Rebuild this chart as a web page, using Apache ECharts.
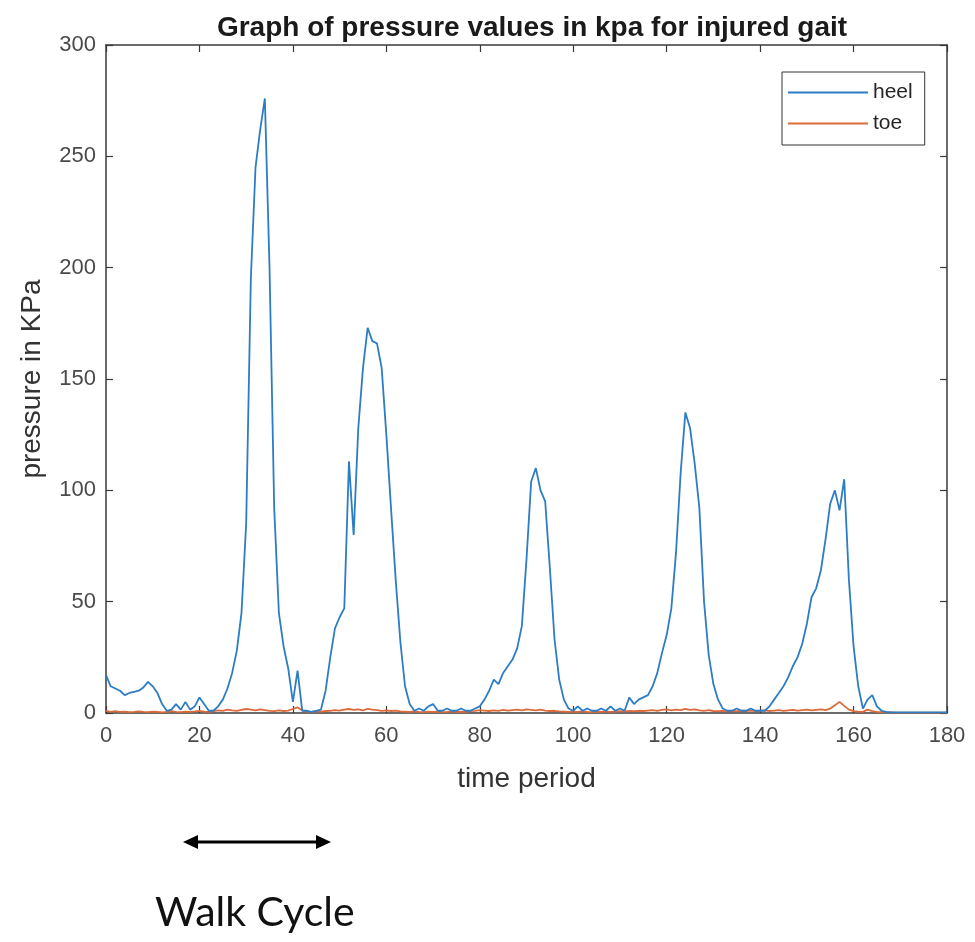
<!DOCTYPE html>
<html>
<head>
<meta charset="utf-8">
<title>Graph of pressure values in kpa for injured gait</title>
<script src="https://cdn.jsdelivr.net/npm/echarts@6/dist/echarts.min.js"></script>
<style>
  html, body { margin: 0; padding: 0; background: #ffffff; }
  #chart { width: 975px; height: 942px; }
</style>
</head>
<body>
<div id="chart"></div>
<script>
// Heel sensor pressure (kPa), one sample per time step 0..180
const heel = [
  17, 12, 11, 10, 8, 9, 9.5, 10, 11.5, 14,
  12, 9, 4, 1, 1.5, 4, 1.5, 5, 1.5, 3,
  7, 4, 1, 1, 3, 6, 11, 18, 28, 45,
  85, 195, 245, 262, 276, 200, 92, 45, 30, 20,
  5, 19, 1, 1, 0.5, 1, 1.5, 10, 25, 38,
  43, 47, 113, 80, 128, 155, 173, 167, 166, 155,
  125, 92, 60, 32, 12, 4, 1, 2, 1, 3,
  4, 1, 1, 2, 1, 1, 2, 1, 1, 2,
  3, 6, 10, 15, 13, 18, 21, 24, 29, 39,
  69, 104, 110, 100, 95, 65, 33, 15, 6, 2,
  1, 3, 1, 2, 1, 1, 2, 1, 3, 1,
  2, 1, 7, 4, 6, 7, 8, 12, 18, 27,
  35, 47, 72, 108, 135, 128, 112, 92, 50, 26,
  13, 6, 2, 1, 1, 2, 1, 1, 2, 1,
  1, 1, 3, 6, 9, 12, 16, 21, 25, 31,
  40, 52, 56, 64, 78, 94, 100, 91, 105, 60,
  30, 12, 2, 6, 8, 3, 1, 0.5, 0.3, 0.3,
  0.3, 0.3, 0.3, 0.3, 0.3, 0.3, 0.3, 0.3, 0.3, 0.3,
  0.3
];

// Toe sensor pressure (kPa), same time steps
const toe = [
  1, 0.5, 0.8, 0.5, 0.6, 0.4, 0.5, 0.7, 0.5, 0.4,
  0.6, 0.5, 0.3, 0.5, 0.8, 0.5, 0.4, 0.6, 0.5, 0.7,
  1.0, 0.6, 0.5, 0.8, 1.2, 1.0, 1.5, 1.2, 1.0, 1.4,
  1.8, 1.5, 1.2, 1.6, 1.3, 1.0, 0.8, 1.2, 0.9, 1.1,
  1.8, 2.5, 1.2, 0.6, 0.5, 0.8, 0.6, 0.9, 1.0, 1.3,
  1.1, 1.5, 1.8, 1.4, 1.6, 1.2, 1.9, 1.5, 1.3, 1.0,
  1.2, 0.9, 1.1, 0.7, 0.6, 0.5, 0.7, 0.5, 0.4, 0.6,
  0.5, 0.6, 0.4, 0.5, 0.7, 0.5, 0.6, 0.5, 0.8, 1.0,
  1.3, 1.1, 0.9, 1.2, 1.0, 1.4, 1.1, 1.3, 1.5, 1.2,
  1.6, 1.4, 1.2, 1.5, 1.1, 0.9, 1.0, 0.7, 0.6, 0.5,
  0.6, 0.5, 0.7, 0.5, 0.4, 0.6, 0.5, 0.7, 0.5, 0.6,
  0.8, 0.7, 0.9, 0.8, 1.0, 0.9, 1.1, 1.3, 1.0, 1.4,
  1.6, 1.2, 1.5, 1.3, 1.8, 1.4, 1.6, 1.2, 1.0, 1.3,
  0.9, 0.8, 1.0, 0.7, 0.9, 0.8, 1.0, 0.9, 1.1, 0.8,
  1.0, 1.2, 0.9, 1.1, 1.3, 1.0, 1.2, 1.4, 1.1, 1.3,
  1.5, 1.2, 1.4, 1.6, 1.3, 2.0, 3.5, 5.0, 3.2, 1.5,
  0.8, 0.6, 0.5, 1.5, 0.8, 0.5, 0.4, 0.3, 0.3, 0.2,
  0.2, 0.2, 0.2, 0.2, 0.2, 0.2, 0.2, 0.2, 0.2, 0.2,
  0.2
];

// Sample index for each reading
const timeSteps = heel.map((_, i) => i);

const xTicks = { min: 0, max: 180, step: 20 };
const yTicks = { min: 0, max: 300, step: 50 };

const seriesNames = ['heel', 'toe'];
const seriesColors = ['#2c7dc3', '#dc6a3a'];

const axisColor = '#3a3a3a';
const labelColor = '#4a4a4a';
const fontFamily = '"Liberation Sans", Arial, Helvetica, sans-serif';

const chart = echarts.init(document.getElementById('chart'), null, { renderer: 'canvas' });

function pairs(values) {
  return timeSteps.map((t, i) => [t, values[i]]);
}

// Frame axes: bottom/left carry labels, top/right only close the box with inward ticks
function frameXAxis(position, withLabels) {
  return {
    type: 'value',
    position: position,
    min: xTicks.min,
    max: xTicks.max,
    interval: xTicks.step,
    name: withLabels ? 'time period' : '',
    nameLocation: 'middle',
    nameGap: 52,
    nameTextStyle: { color: '#333333', fontSize: 28, fontFamily: fontFamily },
    axisLine: { show: true, onZero: false, lineStyle: { color: axisColor, width: 1.5 } },
    axisTick: { show: true, inside: true, length: 7, lineStyle: { color: axisColor, width: 1.2 } },
    axisLabel: { show: withLabels, color: labelColor, fontSize: 22, margin: 12, fontFamily: fontFamily },
    splitLine: { show: false }
  };
}

function frameYAxis(position, withLabels) {
  return {
    type: 'value',
    position: position,
    min: yTicks.min,
    max: yTicks.max,
    interval: yTicks.step,
    name: withLabels ? 'pressure in KPa' : '',
    nameLocation: 'middle',
    nameGap: 60,
    nameRotate: 90,
    nameTextStyle: { color: '#333333', fontSize: 28, fontFamily: fontFamily },
    axisLine: { show: true, onZero: false, lineStyle: { color: axisColor, width: 1.5 } },
    axisTick: { show: true, inside: true, length: 7, lineStyle: { color: axisColor, width: 1.2 } },
    axisLabel: { show: withLabels, color: labelColor, fontSize: 22, margin: 10, fontFamily: fontFamily },
    splitLine: { show: false }
  };
}

const option = {
  backgroundColor: '#ffffff',
  animation: false,
  title: {
    text: 'Graph of pressure values in kpa for injured gait',
    left: 527,
    textAlign: 'center',
    top: 9,
    textStyle: { color: '#1a1a1a', fontSize: 28, fontWeight: 'bold', fontFamily: fontFamily }
  },
  grid: { left: 106, right: 28, top: 45, bottom: 229, containLabel: false },
  legend: {
    data: seriesNames,
    orient: 'vertical',
    left: 782,
    top: 72,
    icon: 'rect',
    itemWidth: 80,
    itemHeight: 2,
    itemGap: 10,
    padding: [10, 12, 11, 6],
    backgroundColor: '#ffffff',
    borderColor: '#333333',
    borderWidth: 1,
    textStyle: { color: '#262626', fontSize: 21, fontFamily: fontFamily }
  },
  xAxis: [frameXAxis('bottom', true), frameXAxis('top', false)],
  yAxis: [frameYAxis('left', true), frameYAxis('right', false)],
  series: [
    {
      name: seriesNames[0],
      type: 'line',
      xAxisIndex: 0,
      yAxisIndex: 0,
      data: pairs(heel),
      symbol: 'none',
      lineStyle: { color: seriesColors[0], width: 1.8 },
      itemStyle: { color: seriesColors[0] },
      z: 3
    },
    {
      name: seriesNames[1],
      type: 'line',
      xAxisIndex: 0,
      yAxisIndex: 0,
      data: pairs(toe),
      symbol: 'none',
      lineStyle: { color: seriesColors[1], width: 1.8 },
      itemStyle: { color: seriesColors[1] },
      z: 2
    }
  ],
  graphic: [
    // double-headed arrow marking one walk cycle
    {
      type: 'line',
      shape: { x1: 196, y1: 842, x2: 318, y2: 842 },
      style: { stroke: '#000000', lineWidth: 3 }
    },
    {
      type: 'polygon',
      shape: { points: [[183, 842], [198, 835], [198, 849]] },
      style: { fill: '#000000' }
    },
    {
      type: 'polygon',
      shape: { points: [[331, 842], [316, 835], [316, 849]] },
      style: { fill: '#000000' }
    },
    {
      type: 'text',
      left: 155,
      top: 892,
      style: {
        text: 'Walk Cycle',
        fill: '#111111',
        font: '41px Lato, "Open Sans", sans-serif'
      }
    }
  ]
};

chart.setOption(option);
</script>
</body>
</html>
